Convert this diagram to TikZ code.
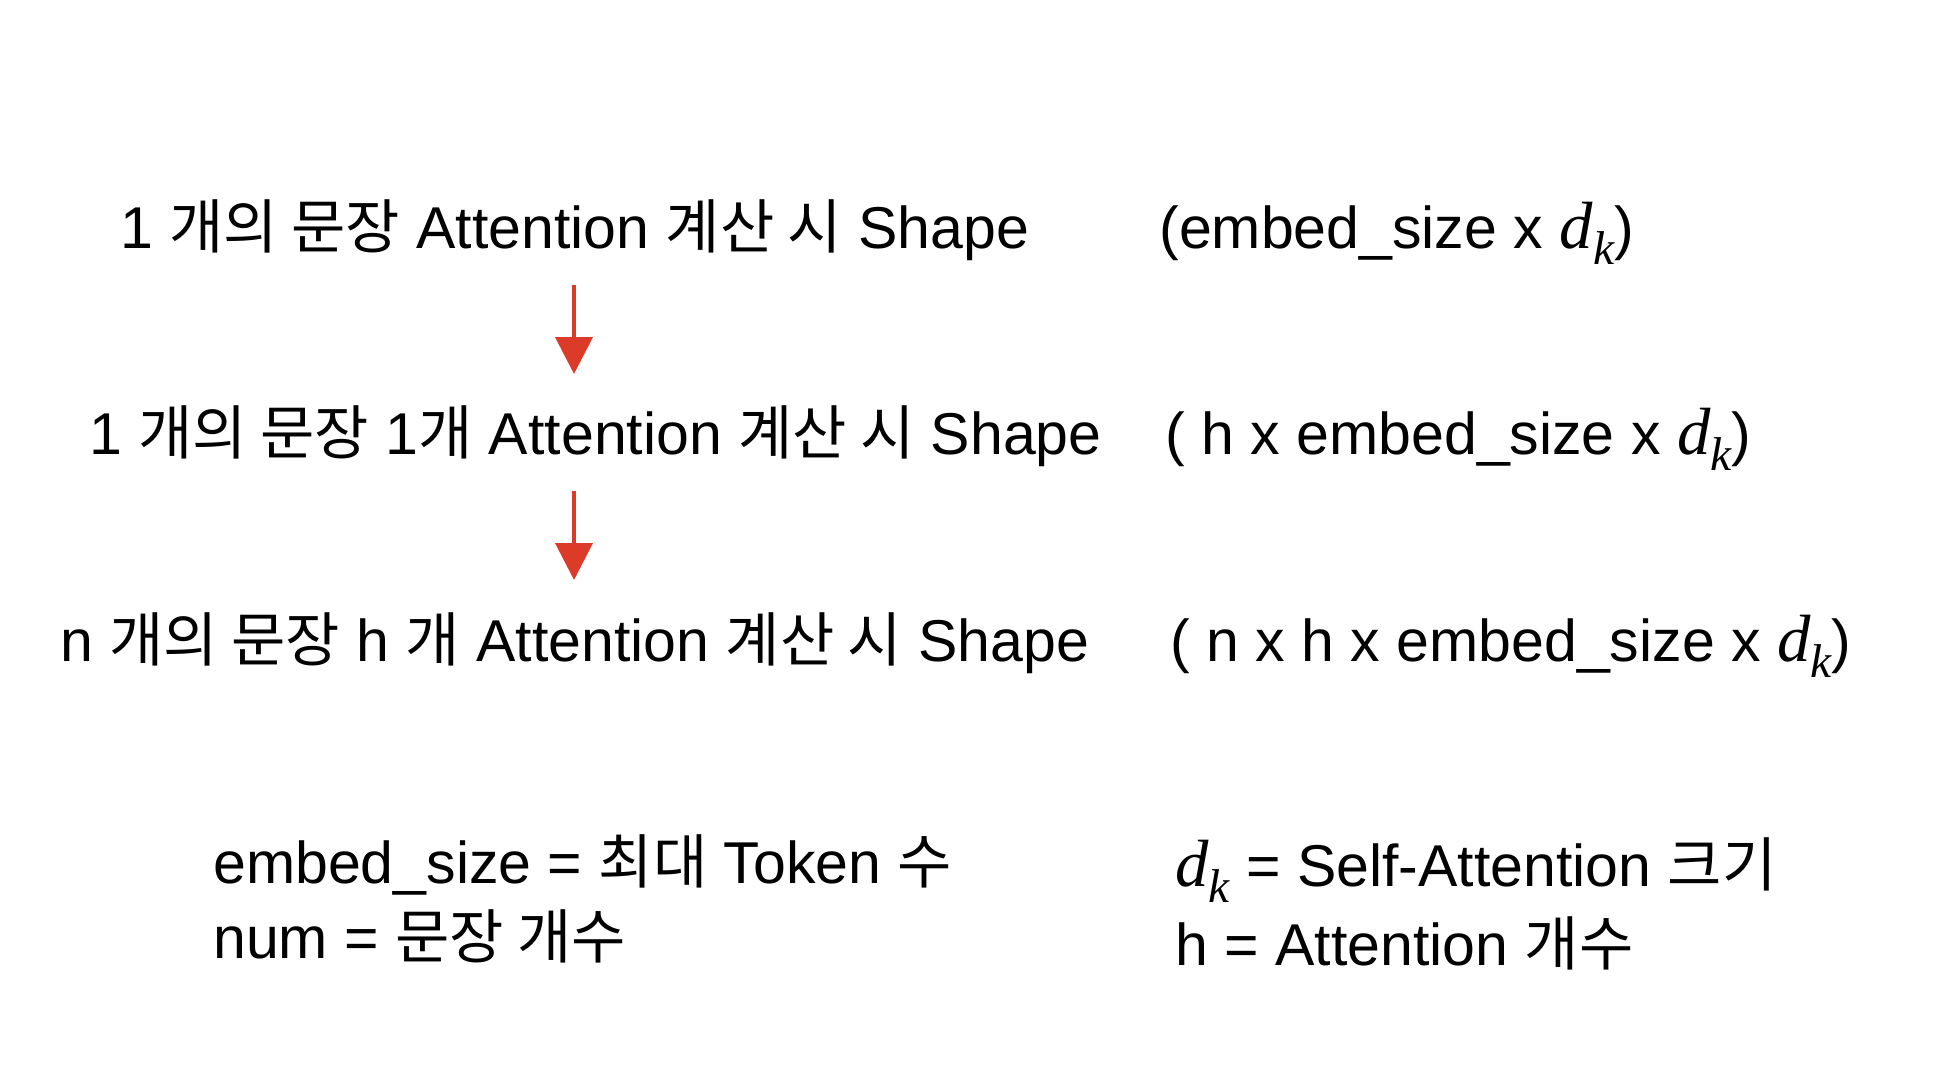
\documentclass[tikz,border=0pt]{standalone}
\usepackage{fontspec}
\setmainfont{Liberation Sans}
\newfontfamily\kr{Noto Sans CJK KR}
\newfontfamily\tms{Liberation Serif}
\usetikzlibrary{arrows.meta}
\definecolor{arrred}{HTML}{DC3B2A}
\newcommand{\dkk}{{\tms\itshape\fontsize{38}{40}\selectfont d}\raisebox{-0.28em}{\tms\itshape\fontsize{27}{27}\selectfont k}}
\begin{document}
\begin{tikzpicture}[x=0.02cm,y=-0.02cm,
  txt/.style={anchor=base west,inner sep=0pt,font=\fontsize{33.6}{40}\selectfont},
  redarrow/.style={draw=arrred,line width=0.08cm,-{Triangle[length=0.74cm,width=0.74cm]}}]
\useasboundingbox (0,0) rectangle (1944,1068);
\node[txt] (l1) at (120,248) {1 {\kr 개의 문장} Attention {\kr 계산 시} Shape};
\node[txt] (r1) at (1159,248) {(embed\_size x \dkk)};
\node[txt] (l2) at (89,454) {1 {\kr 개의 문장} 1{\kr 개} Attention {\kr 계산 시} Shape};
\node[txt] (r2) at (1165,454) {( h x embed\_size x \dkk)};
\node[txt] (l3) at (60,661) {n {\kr 개의 문장} h {\kr 개} Attention {\kr 계산 시} Shape};
\node[txt] (r3) at (1170,661) {( n x h x embed\_size x \dkk)};
\node[txt] (b1) at (213,883) {embed\_size = {\kr 최대} Token {\kr 수}};
\node[txt] (b2) at (213,958) {num = {\kr 문장 개수}};
\node[txt] (b3) at (1175,886) {\dkk{} = Self-Attention {\kr 크기}};
\node[txt] (b4) at (1175,965) {h = Attention {\kr 개수}};
\coordinate (a1s) at (574,285);
\coordinate (a1e) at (574,374);
\coordinate (a2s) at (574,491);
\coordinate (a2e) at (574,580);
\draw[redarrow] (a1s) -- (a1e);
\draw[redarrow] (a2s) -- (a2e);
\end{tikzpicture}
\end{document}
